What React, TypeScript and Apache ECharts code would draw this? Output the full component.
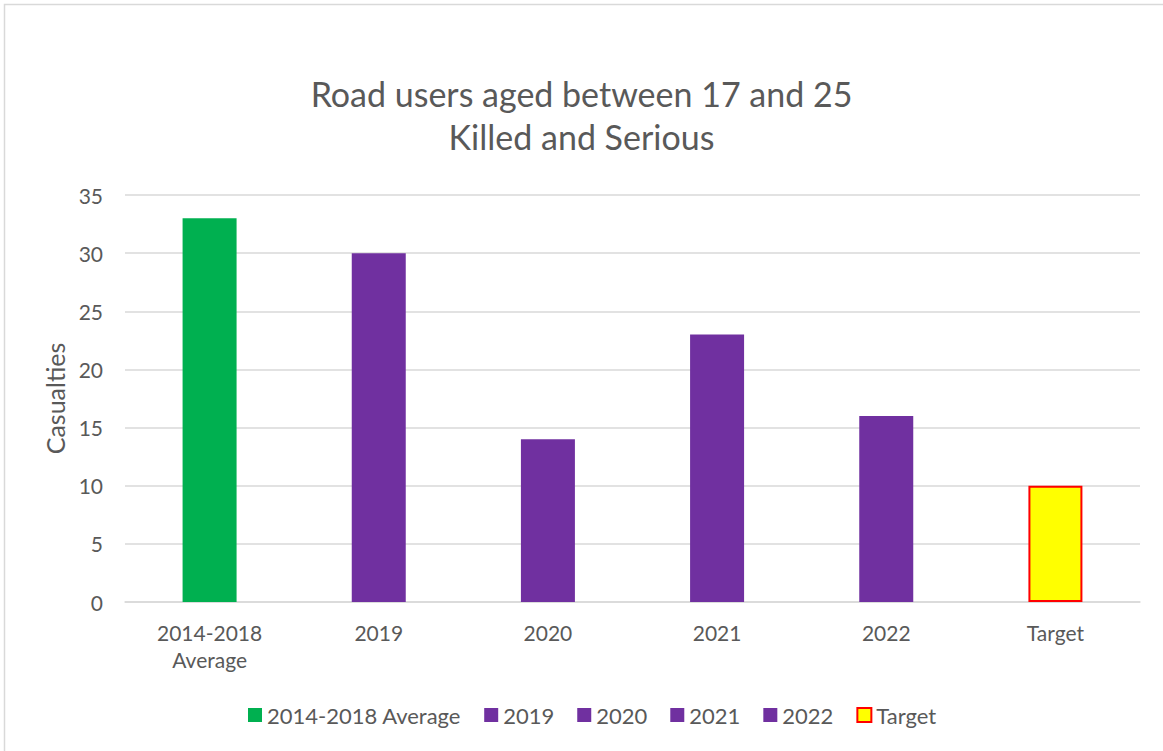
import React, { useEffect, useRef } from "react";
import * as echarts from "echarts";

const categories = ["2014-2018\nAverage", "2019", "2020", "2021", "2022", "Target"];
const seriesNames = ["2014-2018 Average", "2019", "2020", "2021", "2022", "Target"];
const values = [33, 30, 14, 23, 16, 10];
const colors = ["#00b050", "#7030a0", "#7030a0", "#7030a0", "#7030a0", "#ffff00"];
const yTicks = { min: 0, max: 35, interval: 5 };

const FONT = "Lato";
const GREY = "#595959";

export default function App() {
  const ref = useRef<HTMLDivElement>(null);
  useEffect(() => {
    if (!ref.current) return;
    const chart = echarts.init(ref.current, undefined, { renderer: "svg" });
    const series = seriesNames.map((name, i) => ({
      name,
      type: "bar" as const,
      stack: "all",
      barWidth: 54,
      data: values.map((v, j) => (j === i ? v : null)),
      itemStyle:
        name === "Target"
          ? { color: colors[i], borderColor: "#ff0000", borderWidth: 2 }
          : { color: colors[i] },
    }));
    chart.setOption({
      animation: false,
      backgroundColor: "#ffffff",
      textStyle: { fontFamily: FONT },
      title: {
        text: "Road users aged between 17 and 25\nKilled and Serious",
        left: "center",
        top: 67,
        textStyle: {
          fontFamily: FONT,
          fontSize: 34,
          fontWeight: "normal",
          color: GREY,
          lineHeight: 43,
        },
      },
      graphic: [
        {
          type: "rect",
          shape: { x: 4.5, y: 4.5, width: 1300, height: 900 },
          style: { fill: "none", stroke: "#d9d9d9", lineWidth: 1.5 },
          silent: true,
        },
      ],
      grid: { left: 125, right: 23, top: 195, bottom: 149 },
      legend: {
        bottom: 20,
        left: 243,
        icon: "rect",
        itemWidth: 14,
        itemHeight: 14,
        itemGap: 23,
        data: seriesNames,
        textStyle: { fontFamily: FONT, fontSize: 22, color: GREY },
      },
      xAxis: {
        type: "category",
        data: categories,
        axisLine: { lineStyle: { color: "#d9d9d9", width: 1.5 } },
        axisTick: { show: false },
        axisLabel: {
          fontFamily: FONT,
          fontSize: 21,
          color: GREY,
          lineHeight: 27,
          margin: 17,
        },
      },
      yAxis: {
        type: "value",
        min: yTicks.min,
        max: yTicks.max,
        interval: yTicks.interval,
        name: "Casualties",
        nameLocation: "middle",
        nameGap: 57,
        nameTextStyle: { fontFamily: FONT, fontSize: 25, color: GREY },
        axisLine: { show: false },
        axisTick: { show: false },
        splitLine: { lineStyle: { color: "#d9d9d9", width: 1.5 } },
        axisLabel: { fontFamily: FONT, fontSize: 21, color: GREY, margin: 22 },
      },
      series,
    });
    return () => chart.dispose();
  }, []);
  return (
    <div
      ref={ref}
      style={{ position: "fixed", left: 0, top: 0, width: 1163, height: 751 }}
    />
  );
}
